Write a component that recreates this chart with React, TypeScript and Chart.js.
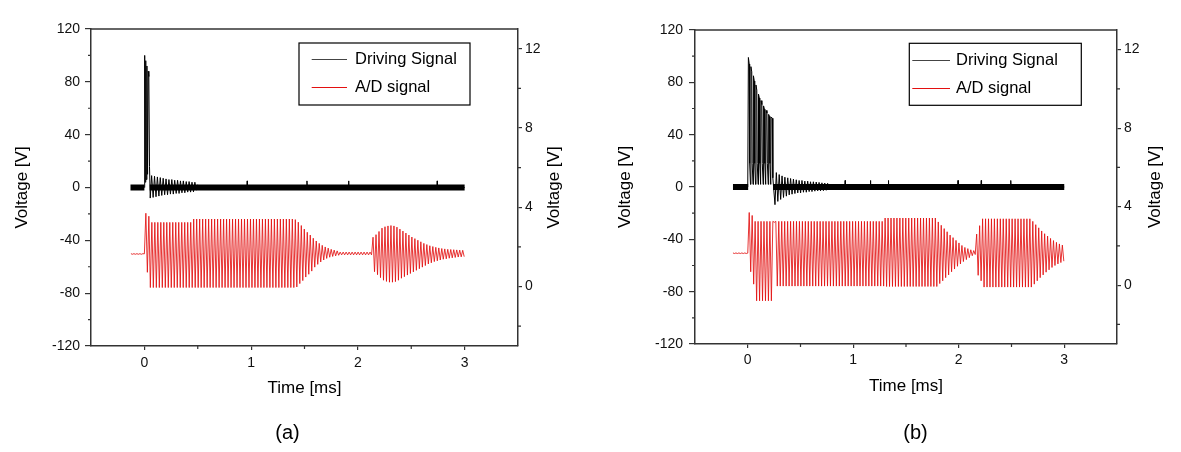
import React, { useEffect, useRef } from 'react';
import { Chart, registerables } from 'chart.js';

Chart.register(...registerables);

const FONT = '"Liberation Sans", Arial, Helvetica, sans-serif';
const AXIS = '#333333';
const RED = '#e31010';

// ---- axes / ticks ----
const X_TICKS = [0, 1, 2, 3];
const X_MINOR = [0.5, 1.5, 2.5];
const LEFT_TICKS = [-120, -80, -40, 0, 40, 80, 120];
const LEFT_MINOR = [-100, -60, -20, 20, 60, 100];
const RIGHT_TICKS = [0, 4, 8, 12];
const RIGHT_MINOR = [-2, 2, 6, 10];
const SERIES_NAMES = ['Driving Signal', 'A/D signal'];
const AXIS_TITLES = { x: 'Time [ms]', y: 'Voltage [V]', y2: 'Voltage [V]' };

// ---- A/D signal samples (right axis, V), sampled every AD_STEP ms ----
const AD_STEP = 0.014;
const adStartA = -0.126;
const adSignalA = [
  1.66, 1.63, 1.66, 1.63, 1.66, 1.63, 1.66, 1.63, 1.66,
  1.65, 3.70, 0.72, 3.55, -0.05,
  3.24, -0.05, 3.24, -0.05, 3.24, -0.05, 3.24, -0.05, 3.24, -0.05, 3.24, -0.05, 3.24, -0.05,
  3.24, -0.05, 3.24, -0.05, 3.24, -0.05, 3.24, -0.05, 3.24, -0.05, 3.24, -0.05, 3.24, -0.05,
  3.41, -0.05, 3.41, -0.05, 3.41, -0.05, 3.41, -0.05, 3.41, -0.05, 3.41, -0.05, 3.41, -0.05,
  3.41, -0.05, 3.41, -0.05, 3.41, -0.05, 3.41, -0.05, 3.41, -0.05, 3.41, -0.05, 3.41, -0.05,
  3.41, -0.05, 3.41, -0.05, 3.41, -0.05, 3.41, -0.05, 3.41, -0.05, 3.41, -0.05, 3.41, -0.05,
  3.41, -0.05, 3.41, -0.05, 3.41, -0.05, 3.41, -0.05, 3.41, -0.05, 3.41, -0.05, 3.41, -0.05,
  3.41, -0.05, 3.41, -0.05, 3.41, -0.05, 3.41, -0.05, 3.41, -0.05, 3.41, -0.05,
  3.38, -0.02, 3.25, 0.15, 3.08, 0.30, 2.90, 0.48, 2.74, 0.62,
  2.60, 0.78, 2.44, 0.98, 2.30, 1.12, 2.18, 1.24, 2.08, 1.34,
  2.00, 1.42, 1.94, 1.48, 1.88, 1.52, 1.84, 1.55, 1.80, 1.58,
  1.74, 1.60, 1.74, 1.60, 1.74, 1.60, 1.74, 1.60, 1.74, 1.60, 1.74, 1.60,
  1.74, 1.60, 1.74, 1.60, 1.74, 1.60, 1.74, 1.60, 1.74, 1.60,
  2.49, 0.75, 2.62, 0.60, 2.78, 0.45, 2.95, 0.32, 3.02, 0.26,
  3.06, 0.22, 3.08, 0.22, 3.06, 0.25, 3.00, 0.32, 2.90, 0.42,
  2.80, 0.50, 2.70, 0.58, 2.60, 0.66, 2.50, 0.74, 2.42, 0.82,
  2.34, 0.90, 2.26, 0.98, 2.18, 1.06, 2.12, 1.14, 2.06, 1.20,
  2.02, 1.26, 1.98, 1.30, 1.95, 1.34, 1.92, 1.38, 1.90, 1.40,
  1.88, 1.43, 1.87, 1.45, 1.86, 1.47, 1.85, 1.49, 1.84, 1.50,
  1.83, 1.51,
];

const adStartB = -0.14;
const adSignalB = [
  1.64, 1.61, 1.64, 1.61, 1.64, 1.61, 1.64, 1.61, 1.64, 1.61,
  1.63, 3.70, 0.68, 3.55, 0.05,
  3.25, -0.80, 3.25, -0.80, 3.25, -0.80, 3.25, -0.80, 3.25, -0.80, 3.25, -0.80,
  3.25, 3.20,
  3.25, -0.05, 3.25, -0.05, 3.25, -0.05, 3.25, -0.05, 3.25, -0.05, 3.25, -0.05, 3.25, -0.05,
  3.25, -0.05, 3.25, -0.05, 3.25, -0.05, 3.25, -0.05, 3.25, -0.05, 3.25, -0.05, 3.25, -0.05,
  3.25, -0.05, 3.25, -0.05, 3.25, -0.05, 3.25, -0.05, 3.25, -0.05, 3.25, -0.05, 3.25, -0.05,
  3.25, -0.05, 3.25, -0.05, 3.25, -0.05, 3.25, -0.05, 3.25, -0.05, 3.25, -0.05, 3.25, -0.05,
  3.25, -0.05, 3.25, -0.05, 3.25, -0.05, 3.25, -0.05, 3.25, -0.05, 3.25, -0.05, 3.25, -0.05,
  3.25, -0.05, 3.25, -0.05,
  3.42, -0.07, 3.42, -0.07, 3.42, -0.07, 3.42, -0.07, 3.42, -0.07, 3.42, -0.07, 3.42, -0.07,
  3.42, -0.07, 3.42, -0.07, 3.42, -0.07, 3.42, -0.07, 3.42, -0.07, 3.42, -0.07, 3.42, -0.07,
  3.42, -0.07, 3.42, -0.07, 3.42, -0.07, 3.42, -0.07,
  3.22, 0.08, 3.05, 0.22, 2.88, 0.38, 2.72, 0.52, 2.55, 0.68,
  2.42, 0.82, 2.28, 0.96, 2.15, 1.08, 2.02, 1.20, 1.92, 1.30,
  1.86, 1.40, 1.80, 1.50, 1.76, 1.56,
  2.60, 0.50, 3.03, 0.22,
  3.38, -0.10, 3.38, -0.10, 3.38, -0.10, 3.38, -0.10, 3.38, -0.10, 3.38, -0.10, 3.38, -0.10,
  3.38, -0.10, 3.38, -0.10, 3.38, -0.10, 3.38, -0.10, 3.38, -0.10, 3.38, -0.10, 3.38, -0.10,
  3.38, -0.10, 3.38, -0.10, 3.38, -0.10,
  3.25, 0.05, 3.08, 0.22, 2.92, 0.38, 2.76, 0.52, 2.62, 0.66,
  2.50, 0.78, 2.38, 0.90, 2.27, 1.00, 2.18, 1.08, 2.10, 1.15,
  2.04, 1.22,
];

// ---- Driving signal (left axis, V) ----
const drvTimeA = [
  0.000, 0.003, 0.008, 0.013, 0.018, 0.024, 0.030, 0.036, 0.042, 0.048,
  0.055, 0.068, 0.082, 0.095, 0.109, 0.122, 0.136, 0.149, 0.163, 0.176,
  0.190, 0.203, 0.217, 0.230, 0.244, 0.257, 0.271, 0.284, 0.298, 0.311,
  0.325, 0.338, 0.352, 0.365, 0.379, 0.392, 0.406, 0.419, 0.433, 0.446,
  0.460, 0.473, 0.487, 0.500, 0.515,
  0.960, 0.963, 0.966, 1.520, 1.523, 1.526, 1.910, 1.913, 1.916, 2.740, 2.743, 2.746, 3.000,
];
const drvVoltA = [
  0, 100, 4, 96, 6, 92, 10, 88, 84, 16,
  -8, 9, -7.5, 8.5, -7, 8, -6.5, 7.5, -6, 7,
  -5.5, 6.5, -5.5, 6, -5, 6, -5, 5.5, -4.5, 5.5,
  -4.5, 5, -4, 5, -4, 4.5, -3.5, 4.5, -3.5, 4,
  -3.3, 4, -2, 2, 0,
  0, 5, 0, 0, 5, 0, 0, 5, 0, 0, 5, 0, 0,
];
const drvTimeB = [
  0.000, 0.006, 0.014, 0.018, 0.026, 0.030, 0.038, 0.042, 0.050, 0.054,
  0.062, 0.066, 0.074, 0.078, 0.086, 0.090, 0.098, 0.102, 0.110, 0.114,
  0.122, 0.126, 0.134, 0.138, 0.146, 0.150, 0.158, 0.162, 0.170, 0.174,
  0.182, 0.186, 0.194, 0.198, 0.206, 0.210, 0.218, 0.222, 0.234, 0.238,
  0.258, 0.271, 0.285, 0.298, 0.312, 0.325, 0.339, 0.352, 0.366, 0.379,
  0.393, 0.406, 0.420, 0.433, 0.447, 0.460, 0.474, 0.487, 0.501, 0.514,
  0.528, 0.541, 0.555, 0.568, 0.582, 0.595, 0.609, 0.622, 0.636, 0.649,
  0.663, 0.676, 0.690, 0.703, 0.717, 0.730, 0.744, 0.757, 0.771, 0.785,
  0.920, 0.923, 0.926, 1.160, 1.163, 1.166, 1.330, 1.333, 1.336,
  1.990, 1.993, 1.996, 2.210, 2.213, 2.216, 2.490, 2.493, 2.496, 3.000,
];
const drvVoltB = [
  0, 99, 94, 18, 2, 92, 88, 18, 2, 85,
  81, 18, 2, 78, 74, 18, 2, 71, 68, 18,
  2, 66, 63, 18, 2, 62, 59.5, 18, 2, 58.5,
  56.5, 18, 2, 55.5, 54, 18, 2, 53.5, 52.5, 7,
  -13.5, 11, -11, 9.5, -9.5, 8.5, -8, 7.5, -7, 7,
  -6, 6.5, -5.5, 6, -5, 5.5, -4.5, 5, -4.5, 5,
  -4, 4.5, -4, 4.5, -3.5, 4, -3.5, 4, -3.2, 3.8,
  -3, 3.5, -3, 3.2, -2.8, 3, -2.5, 2.8, -2, 0,
  0, 5, 0, 0, 5, 0, 0, 5, 0,
  0, 5, 0, 0, 5, 0, 0, 5, 0, 0,
];
// dense noise floor of the driving signal (start, end) in ms, at 0 V
const floorSpanA = [[-0.13, 0.0], [0.05, 3.0]];
const floorSpanB = [[-0.14, 0.004], [0.24, 3.0]];

// ---- layout (style only) ----
const H = 452;
const PANELS = [
  {
    tag: '(a)', left: 0, width: 590,
    area: { left: 91, right: 518, top: 29, bottom: 346 },
    leftTitlePad: 12.3, xTitlePad: 53, rightTitleX: 554.5, leftTickPad: 5, xTickPad: 5,
    legend: { x: 299, y: 43, w: 171, h: 62, lx0: 311.7, lx1: 347, tx: 355, r1: 59.5, r2: 87.5 },
    tagX: 287.5, tagY: 433,
    ad: { start: adStartA, vals: adSignalA }, drv: { t: drvTimeA, v: drvVoltA }, floor: floorSpanA,
  },
  {
    tag: '(b)', left: 590, width: 591,
    area: { left: 105, right: 527, top: 30, bottom: 344 },
    leftTitlePad: 25.3, xTitlePad: 55.3, rightTitleX: 565, leftTickPad: 6, xTickPad: 4,
    legend: { x: 319.3, y: 43.3, w: 172, h: 62, lx0: 322.3, lx1: 360, tx: 366, r1: 60.5, r2: 88.5 },
    tagX: 325.5, tagY: 433,
    ad: { start: adStartB, vals: adSignalB }, drv: { t: drvTimeB, v: drvVoltB }, floor: floorSpanB,
  },
];

function sampled(start: number, vals: number[]) {
  return vals.map((v, i) => ({ x: start + i * AD_STEP, y: v }));
}
function paired(ts: number[], vs: number[]) {
  const n = Math.min(ts.length, vs.length);
  const out: any[] = [];
  for (let i = 0; i < n; i++) out.push({ x: ts[i], y: vs[i] });
  return out;
}
function floorData(spans: number[][]) {
  const out: any[] = [];
  spans.forEach((s, i) => {
    if (i > 0) out.push({ x: (spans[i - 1][1] + s[0]) / 2, y: null });
    out.push({ x: s[0], y: 0 }, { x: s[1], y: 0 });
  });
  return out;
}

function makeFramePlugin(L: any) {
  return {
    id: 'frame',
    afterDraw(chart: any) {
      const { ctx, chartArea: a, scales } = chart;
      ctx.save();
      ctx.strokeStyle = AXIS;
      ctx.lineWidth = 1.5;
      ctx.beginPath();
      ctx.moveTo(a.left, a.top);
      ctx.lineTo(a.right, a.top);
      ctx.stroke();
      ctx.lineWidth = 1.2;
      ctx.beginPath();
      LEFT_MINOR.forEach((v) => {
        const y = scales.y.getPixelForValue(v);
        ctx.moveTo(a.left, y);
        ctx.lineTo(a.left - 3, y);
      });
      RIGHT_MINOR.forEach((v) => {
        const y = scales.y2.getPixelForValue(v);
        ctx.moveTo(a.right, y);
        ctx.lineTo(a.right + 3, y);
      });
      X_MINOR.forEach((v) => {
        const x = scales.x.getPixelForValue(v);
        ctx.moveTo(x, a.bottom);
        ctx.lineTo(x, a.bottom + 3);
      });
      ctx.stroke();

      // legend
      const g = L.legend;
      ctx.fillStyle = '#fff';
      ctx.fillRect(g.x, g.y, g.w, g.h);
      ctx.strokeStyle = '#000';
      ctx.lineWidth = 1.2;
      ctx.strokeRect(g.x, g.y, g.w, g.h);
      ctx.lineWidth = 1;
      ctx.strokeStyle = '#444';
      ctx.beginPath();
      ctx.moveTo(g.lx0, g.r1);
      ctx.lineTo(g.lx1, g.r1);
      ctx.stroke();
      ctx.strokeStyle = RED;
      ctx.beginPath();
      ctx.moveTo(g.lx0, g.r2);
      ctx.lineTo(g.lx1, g.r2);
      ctx.stroke();
      ctx.fillStyle = '#000';
      ctx.font = `16.5px ${FONT}`;
      ctx.textAlign = 'left';
      ctx.textBaseline = 'middle';
      ctx.fillText(SERIES_NAMES[0], g.tx, g.r1);
      ctx.fillText(SERIES_NAMES[1], g.tx, g.r2);

      // right axis title (reads bottom-to-top)
      ctx.save();
      ctx.translate(L.rightTitleX, (a.top + a.bottom) / 2);
      ctx.rotate(-Math.PI / 2);
      ctx.font = `17px ${FONT}`;
      ctx.textAlign = 'center';
      ctx.textBaseline = 'middle';
      ctx.fillText(AXIS_TITLES.y2, 0, 0);
      ctx.restore();

      // panel tag
      ctx.font = `20px ${FONT}`;
      ctx.textAlign = 'center';
      ctx.textBaseline = 'middle';
      ctx.fillText(L.tag, L.tagX, L.tagY);
      ctx.restore();
    },
  };
}

function Panel({ L }: { L: any }) {
  const ref = useRef<HTMLCanvasElement>(null);
  useEffect(() => {
    const tickFont = { family: FONT, size: 14 };
    const titleFont = { family: FONT, size: 17 };
    const chart = new Chart(ref.current as HTMLCanvasElement, {
      type: 'line',
      data: {
        datasets: [
          {
            label: 'floor', data: floorData(L.floor), yAxisID: 'y', borderColor: '#000',
            borderWidth: 6, pointRadius: 0, spanGaps: false, borderCapStyle: 'butt',
          },
          {
            label: SERIES_NAMES[0], data: paired(L.drv.t, L.drv.v), yAxisID: 'y',
            borderColor: '#000', borderWidth: 1, pointRadius: 0,
          },
          {
            label: SERIES_NAMES[1], data: sampled(L.ad.start, L.ad.vals), yAxisID: 'y2',
            borderColor: RED, borderWidth: 0.85, pointRadius: 0,
          },
        ],
      } as any,
      options: {
        animation: false,
        responsive: false,
        devicePixelRatio: 1,
        parsing: false,
        normalized: true,
        layout: { padding: { top: L.area.top, left: 0, right: 0, bottom: 0 } },
        elements: { line: { tension: 0 } },
        plugins: { legend: { display: false }, tooltip: { enabled: false } },
        scales: {
          x: {
            type: 'linear', position: 'bottom', min: -0.5, max: 3.5,
            afterBuildTicks: (s: any) => { s.ticks = X_TICKS.map((v) => ({ value: v })); },
            afterFit: (s: any) => { s.height = H - L.area.bottom; },
            ticks: { font: tickFont, color: '#111', padding: L.xTickPad, autoSkip: false, maxRotation: 0, callback: (v: any) => String(v) },
            grid: { display: true, drawOnChartArea: false, drawTicks: true, tickLength: 4, color: AXIS, lineWidth: 1.2 },
            border: { display: true, color: AXIS, width: 1.5 },
            title: { display: true, text: AXIS_TITLES.x, font: titleFont, color: '#000', padding: { top: 0, bottom: L.xTitlePad } },
          },
          y: {
            type: 'linear', position: 'left', min: -120, max: 120,
            afterBuildTicks: (s: any) => { s.ticks = LEFT_TICKS.map((v) => ({ value: v })); },
            afterFit: (s: any) => { s.width = L.area.left; },
            ticks: { font: tickFont, color: '#111', padding: L.leftTickPad, autoSkip: false, callback: (v: any) => String(v) },
            grid: { display: true, drawOnChartArea: false, drawTicks: true, tickLength: 6, color: AXIS, lineWidth: 1.2 },
            border: { display: true, color: AXIS, width: 1.5 },
            title: { display: true, text: AXIS_TITLES.y, font: titleFont, color: '#000', padding: { top: L.leftTitlePad, bottom: 0 } },
          },
          y2: {
            type: 'linear', position: 'right', min: -3, max: 13,
            afterBuildTicks: (s: any) => { s.ticks = RIGHT_TICKS.map((v) => ({ value: v })); },
            afterFit: (s: any) => { s.width = L.width - L.area.right; },
            ticks: { font: tickFont, color: '#111', padding: 3, autoSkip: false, callback: (v: any) => String(v) },
            grid: { display: true, drawOnChartArea: false, drawTicks: true, tickLength: 4, color: AXIS, lineWidth: 1.2 },
            border: { display: true, color: AXIS, width: 1.5 },
          },
        },
      } as any,
      plugins: [makeFramePlugin(L)],
    });
    return () => chart.destroy();
  }, [L]);
  return (
    <canvas
      ref={ref}
      width={L.width}
      height={H}
      style={{ position: 'absolute', left: L.left, top: 0, width: L.width, height: H }}
    />
  );
}

export default function App() {
  return (
    <div style={{ position: 'absolute', left: 0, top: 0, width: 1181, height: H, background: '#fff', overflow: 'hidden' }}>
      {PANELS.map((L) => (
        <Panel key={L.tag} L={L} />
      ))}
    </div>
  );
}
